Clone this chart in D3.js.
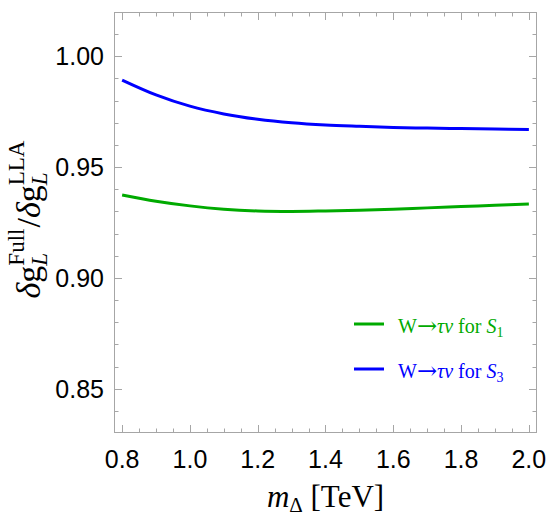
<!DOCTYPE html>
<html>
<head>
<meta charset="utf-8">
<script src="https://cdn.jsdelivr.net/npm/d3@7"></script>
<style>
	body { margin: 0; background: #fff; }
	svg { display: block; }
</style>
</head>
<body>
<div id="chart"></div>
<script>
// data
const mass = [0.8, 0.9, 1.0, 1.1, 1.2, 1.3, 1.4, 1.5, 1.6, 1.7, 1.8, 1.9, 2.0];
const ratioS1 = [0.9374, 0.9346, 0.9325, 0.9310, 0.9302, 0.9300, 0.9302, 0.9305, 0.9310, 0.9316, 0.9322, 0.9328, 0.9334];
const ratioS3 = [0.9893, 0.9826, 0.9775, 0.9740, 0.9716, 0.9700, 0.9690, 0.9684, 0.9679, 0.9676, 0.9674, 0.9672, 0.9670];
const xTicks = [0.8, 1.0, 1.2, 1.4, 1.6, 1.8, 2.0];
const yTicks = [0.85, 0.90, 0.95, 1.00];
const seriesNames = ["S1", "S3"];
const seriesColors = ["#00aa00", "#0000ff"];

const width = 557, height = 532;
const plotLeft = 114, plotRight = 537, plotTop = 12, plotBottom = 433;

const x = d3.scaleLinear().domain([0.776, 2.024]).range([plotLeft, plotRight]);
const y = d3.scaleLinear().domain([0.83, 1.02]).range([plotBottom, plotTop]);

const svg = d3.select("#chart")
	.append("svg")
	.attr("width", width)
	.attr("height", height);

const frameColor = "#a6a6a6";

// frame
svg.append("rect")
	.attr("x", plotLeft + 0.5)
	.attr("y", plotTop + 0.5)
	.attr("width", plotRight - plotLeft - 1)
	.attr("height", plotBottom - plotTop - 1)
	.attr("fill", "none")
	.attr("stroke", frameColor)
	.attr("stroke-width", 1);

// ticks on all four sides, pointing inward
const xMinor = d3.range(0.8, 2.001, 0.05).filter((v) => !xTicks.some((t) => Math.abs(t - v) < 1e-6));
const yMinor = d3.range(0.84, 1.011, 0.01).filter((v) => !yTicks.some((t) => Math.abs(t - v) < 1e-6));

const ticks = svg.append("g").attr("stroke", frameColor).attr("stroke-width", 1);

function xTick(v, len) {
	const px = Math.round(x(v)) + 0.5;
	ticks.append("line").attr("x1", px).attr("x2", px).attr("y1", plotBottom).attr("y2", plotBottom - len);
	ticks.append("line").attr("x1", px).attr("x2", px).attr("y1", plotTop).attr("y2", plotTop + len);
}
function yTick(v, len) {
	const py = Math.round(y(v)) + 0.5;
	ticks.append("line").attr("y1", py).attr("y2", py).attr("x1", plotLeft).attr("x2", plotLeft + len);
	ticks.append("line").attr("y1", py).attr("y2", py).attr("x1", plotRight).attr("x2", plotRight - len);
}
xTicks.forEach((v) => xTick(v, 8));
xMinor.forEach((v) => xTick(v, 4.5));
yTicks.forEach((v) => yTick(v, 8));
yMinor.forEach((v) => yTick(v, 4.5));

// tick labels
svg.append("g")
	.selectAll("text")
	.data(xTicks)
	.enter()
	.append("text")
	.attr("x", (d) => x(d))
	.attr("y", 468)
	.attr("text-anchor", "middle")
	.attr("font-family", "Liberation Sans, Arial, sans-serif")
	.attr("font-size", 25)
	.text((d) => d.toFixed(1));

svg.append("g")
	.selectAll("text")
	.data(yTicks)
	.enter()
	.append("text")
	.attr("x", plotLeft - 10)
	.attr("y", (d) => y(d) + 9)
	.attr("text-anchor", "end")
	.attr("font-family", "Liberation Sans, Arial, sans-serif")
	.attr("font-size", 25)
	.text((d) => d.toFixed(2));

// curves
const line = d3.line()
	.x((d) => x(d[0]))
	.y((d) => y(d[1]))
	.curve(d3.curveCatmullRom);

[ratioS1, ratioS3].forEach((vals, i) => {
	svg.append("path")
		.datum(mass.map((m, j) => [m, vals[j]]))
		.attr("fill", "none")
		.attr("stroke", seriesColors[i])
		.attr("stroke-width", 3)
		.attr("d", line);
});

// legend
const serif = "Liberation Serif, Times New Roman, serif";
const legendY = [324, 369];
seriesNames.forEach((name, i) => {
	svg.append("line")
		.attr("x1", 354).attr("x2", 384)
		.attr("y1", legendY[i]).attr("y2", legendY[i])
		.attr("stroke", seriesColors[i])
		.attr("stroke-width", 3);
	const t = svg.append("text")
		.attr("x", 398)
		.attr("y", legendY[i] + 9)
		.attr("font-family", serif)
		.attr("font-size", 20)
		.attr("fill", seriesColors[i]);
	t.append("tspan").text("W");
	t.append("tspan").attr("font-family", "DejaVu Serif").attr("font-size", 24).attr("dy", 1).text("\u2192");
	t.append("tspan").attr("font-style", "italic").attr("dy", -1).text("\u03c4\u03bd");
	t.append("tspan").text("\u00a0for\u00a0");
	t.append("tspan").attr("font-style", "italic").text("S");
	t.append("tspan").attr("font-size", 14).attr("dy", 4).text(name.slice(1));
});

// x axis title
const xt = svg.append("text")
	.attr("x", (plotLeft + plotRight) / 2)
	.attr("y", 507)
	.attr("text-anchor", "middle")
	.attr("font-family", serif)
	.attr("font-size", 31);
xt.append("tspan").attr("font-style", "italic").text("m");
xt.append("tspan").attr("font-size", 21).attr("dy", 5).text("\u0394");
xt.append("tspan").attr("dy", -5).text("\u00a0[TeV]");

// y axis title, built piece by piece so sub and superscripts can stack
const yt = svg.append("g").attr("transform", "translate(40,219) rotate(-90)");
let cursor = 0;
function piece(str, size, dy, italic) {
	const el = yt.append("text")
		.attr("x", cursor)
		.attr("y", dy)
		.attr("font-family", serif)
		.attr("font-size", size)
		.attr("font-style", italic ? "italic" : "normal")
		.text(str);
	return el.node().getComputedTextLength();
}
function stack(sub, sup) {
	const w1 = piece(sub, 23, 7, true);
	const w2 = piece(sup, 23, -16, false);
	cursor += Math.max(w1, w2) + 1;
}
cursor += piece("\u03b4", 34, 0, true);
cursor += piece("g", 34, 0, false);
stack("L", "Full");
cursor += piece("/", 34, 0, false);
cursor += piece("\u03b4", 34, 0, true);
cursor += piece("g", 34, 0, false);
stack("L", "LLA");
yt.selectAll("text").attr("x", function () {
	return +d3.select(this).attr("x") - cursor / 2;
});
</script>
</body>
</html>
